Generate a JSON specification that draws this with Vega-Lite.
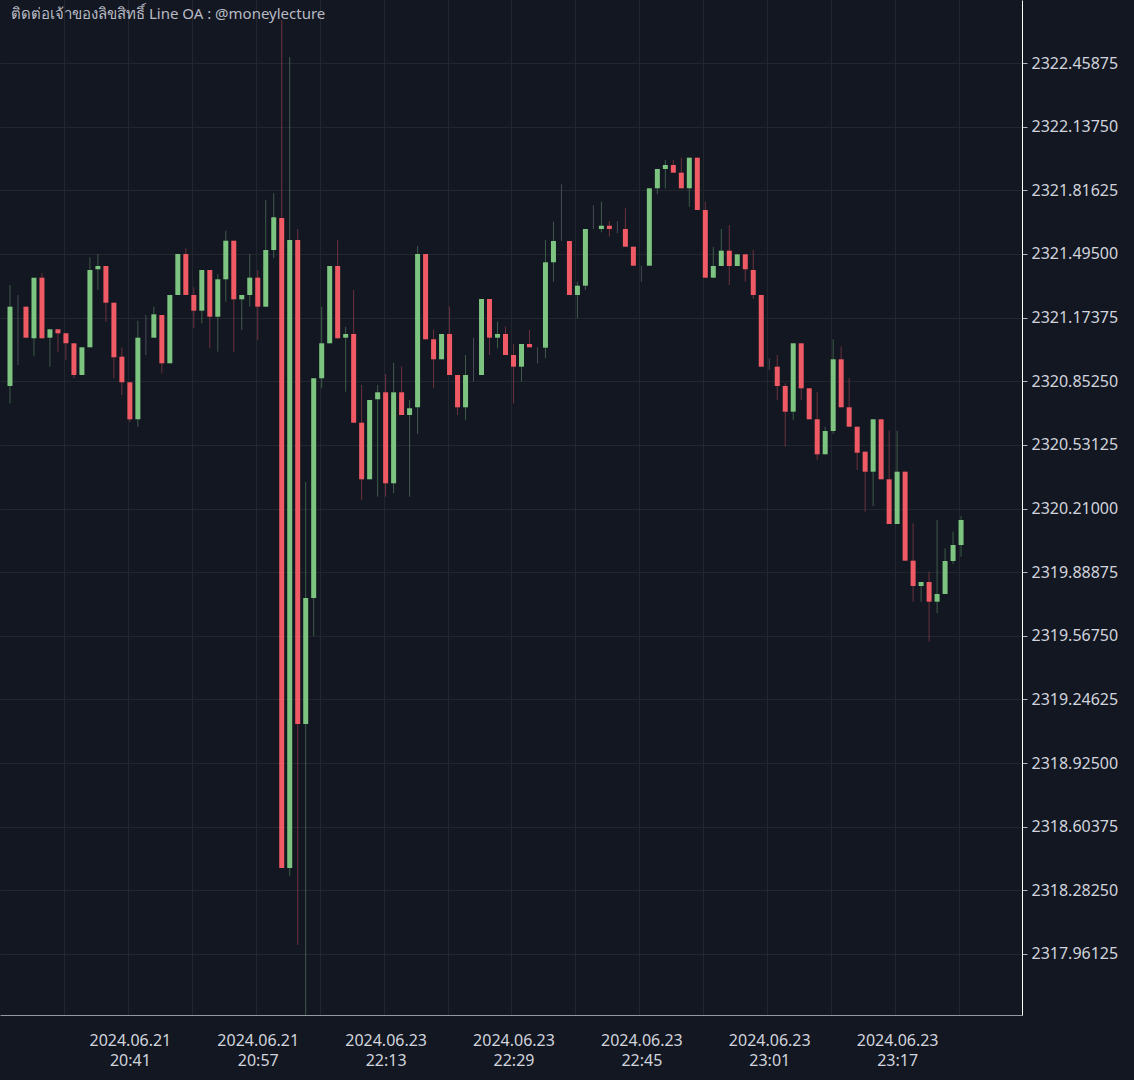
{
"$schema": "https://vega.github.io/schema/vega-lite/v6.json",
"width": 1134,
"height": 1080,
"autosize": {"type": "fit", "contains": "padding"},
"padding": {"left": 0, "top": 0, "right": 16, "bottom": 12},
"background": "#131722",
"config": {"view": {"stroke": null}, "font": "Noto Sans"},
"title": {"text": "ติดต่อเจ้าของลิขสิทธิ์ Line OA : @moneylecture", "anchor": "start", "orient": "top", "frame": "group", "offset": -34, "baseline": "alphabetic", "dx": 11, "fontSize": 15, "fontWeight": "normal", "color": "#b8bbc3", "font": "Noto Sans"},
"data": {"values": [
{"i":0,"o":2320.8284,"h":2321.3382,"l":2320.7411,"c":2321.2287},
{"i":1,"o":2321.2287,"h":2321.2877,"l":2320.9344,"c":2321.2287},
{"i":2,"o":2321.2287,"h":2321.2287,"l":2321.0722,"c":2321.0722},
{"i":3,"o":2321.0692,"h":2321.3751,"l":2320.9798,"c":2321.3751},
{"i":4,"o":2321.3751,"h":2321.3973,"l":2321.0692,"c":2321.0692},
{"i":5,"o":2321.0722,"h":2321.1146,"l":2320.9258,"c":2321.1146},
{"i":6,"o":2321.1146,"h":2321.1146,"l":2321.0015,"c":2321.0944},
{"i":7,"o":2321.0944,"h":2321.0944,"l":2320.9596,"c":2321.0439},
{"i":8,"o":2321.0439,"h":2321.0439,"l":2320.8673,"c":2320.8839},
{"i":9,"o":2320.8839,"h":2321.0237,"l":2320.8839,"c":2321.0237},
{"i":10,"o":2321.0237,"h":2321.4780,"l":2321.0237,"c":2321.4139},
{"i":11,"o":2321.4175,"h":2321.4947,"l":2321.3130,"c":2321.4341},
{"i":12,"o":2321.4341,"h":2321.4341,"l":2321.1530,"c":2321.2489},
{"i":13,"o":2321.2489,"h":2321.2489,"l":2320.8673,"c":2320.9733},
{"i":14,"o":2320.9763,"h":2321.0237,"l":2320.7830,"c":2320.8471},
{"i":15,"o":2320.8471,"h":2320.8471,"l":2320.6467,"c":2320.6603},
{"i":16,"o":2320.6603,"h":2321.1580,"l":2320.6229,"c":2321.0722},
{"i":17,"o":2321.0722,"h":2321.1868,"l":2320.9849,"c":2321.0722},
{"i":18,"o":2321.0722,"h":2321.2287,"l":2321.0722,"c":2321.1903},
{"i":19,"o":2321.1868,"h":2321.1868,"l":2320.8925,"c":2320.9430},
{"i":20,"o":2320.9430,"h":2321.2877,"l":2320.9430,"c":2321.2877},
{"i":21,"o":2321.2877,"h":2321.4947,"l":2321.2877,"c":2321.4947},
{"i":22,"o":2321.4947,"h":2321.5235,"l":2321.2877,"c":2321.2877},
{"i":23,"o":2321.2877,"h":2321.3266,"l":2321.1196,"c":2321.2085},
{"i":24,"o":2321.2085,"h":2321.4139,"l":2321.1449,"c":2321.4139},
{"i":25,"o":2321.4139,"h":2321.4139,"l":2321.0187,"c":2321.1782},
{"i":26,"o":2321.1782,"h":2321.3937,"l":2321.0015,"c":2321.3670},
{"i":27,"o":2321.3670,"h":2321.6123,"l":2321.2539,"c":2321.5618},
{"i":28,"o":2321.5618,"h":2321.5618,"l":2321.0015,"c":2321.2660},
{"i":29,"o":2321.2660,"h":2321.2877,"l":2321.1111,"c":2321.2877},
{"i":30,"o":2321.2877,"h":2321.4947,"l":2321.2287,"c":2321.3751},
{"i":31,"o":2321.3751,"h":2321.4139,"l":2321.0606,"c":2321.2287},
{"i":32,"o":2321.2287,"h":2321.7673,"l":2321.2287,"c":2321.5149},
{"i":33,"o":2321.5149,"h":2321.8011,"l":2321.4730,"c":2321.6799},
{"i":34,"o":2321.6764,"h":2322.6758,"l":2318.3954,"c":2318.3954},
{"i":35,"o":2318.3954,"h":2322.4891,"l":2318.3550,"c":2321.5654},
{"i":36,"o":2321.5654,"h":2321.6209,"l":2318.0067,"c":2319.1223},
{"i":37,"o":2319.1223,"h":2320.3438,"l":2317.5777,"c":2319.7583},
{"i":38,"o":2319.7583,"h":2320.8673,"l":2319.5665,"c":2320.8673},
{"i":39,"o":2320.8673,"h":2321.2287,"l":2320.8168,"c":2321.0439},
{"i":40,"o":2321.0439,"h":2321.4341,"l":2321.0439,"c":2321.4341},
{"i":41,"o":2321.4341,"h":2321.5654,"l":2321.0692,"c":2321.0692},
{"i":42,"o":2321.0722,"h":2321.1277,"l":2320.7996,"c":2321.0909},
{"i":43,"o":2321.0909,"h":2321.3130,"l":2320.6431,"c":2320.6431},
{"i":44,"o":2320.6431,"h":2320.8334,"l":2320.2529,"c":2320.3574},
{"i":45,"o":2320.3574,"h":2320.7577,"l":2320.3574,"c":2320.7577},
{"i":46,"o":2320.7613,"h":2320.8334,"l":2320.2696,"c":2320.7966},
{"i":47,"o":2320.7966,"h":2320.8890,"l":2320.2696,"c":2320.3372},
{"i":48,"o":2320.3372,"h":2320.9460,"l":2320.2868,"c":2320.7966},
{"i":49,"o":2320.7966,"h":2320.9258,"l":2320.6820,"c":2320.6820},
{"i":50,"o":2320.6820,"h":2320.7577,"l":2320.2696,"c":2320.7158},
{"i":51,"o":2320.7209,"h":2321.5351,"l":2320.5861,"c":2321.4947},
{"i":52,"o":2321.4947,"h":2321.4947,"l":2321.0641,"c":2321.0641},
{"i":53,"o":2321.0641,"h":2321.1146,"l":2320.8168,"c":2320.9632},
{"i":54,"o":2320.9632,"h":2321.0909,"l":2320.9632,"c":2321.0909},
{"i":55,"o":2321.0909,"h":2321.2287,"l":2320.8839,"c":2320.8839},
{"i":56,"o":2320.8839,"h":2320.8839,"l":2320.6820,"c":2320.7209},
{"i":57,"o":2320.7209,"h":2320.9849,"l":2320.6568,"c":2320.8839},
{"i":58,"o":2320.8839,"h":2321.0722,"l":2320.8501,"c":2320.8839},
{"i":59,"o":2320.8839,"h":2321.2675,"l":2320.8839,"c":2321.2675},
{"i":60,"o":2321.2675,"h":2321.2675,"l":2320.9849,"c":2321.0722},
{"i":61,"o":2321.0722,"h":2321.1530,"l":2321.0187,"c":2321.0909},
{"i":62,"o":2321.0909,"h":2321.1277,"l":2320.9849,"c":2320.9849},
{"i":63,"o":2320.9849,"h":2321.0389,"l":2320.7411,"c":2320.9258},
{"i":64,"o":2320.9258,"h":2321.0404,"l":2320.8501,"c":2321.0404},
{"i":65,"o":2321.0404,"h":2321.1111,"l":2321.0237,"c":2321.0237},
{"i":66,"o":2321.0237,"h":2321.0237,"l":2320.9430,"c":2321.0237},
{"i":67,"o":2321.0217,"h":2321.5654,"l":2320.9682,"c":2321.4528},
{"i":68,"o":2321.4528,"h":2321.6577,"l":2321.3549,"c":2321.5603},
{"i":69,"o":2321.5603,"h":2321.8465,"l":2321.5603,"c":2321.5603},
{"i":70,"o":2321.5603,"h":2321.5603,"l":2321.2877,"c":2321.2877},
{"i":71,"o":2321.2877,"h":2321.3549,"l":2321.1701,"c":2321.3347},
{"i":72,"o":2321.3347,"h":2321.6209,"l":2321.3130,"c":2321.6209},
{"i":73,"o":2321.6209,"h":2321.7420,"l":2321.6209,"c":2321.6209},
{"i":74,"o":2321.6209,"h":2321.7587,"l":2321.6042,"c":2321.6375},
{"i":75,"o":2321.6375,"h":2321.6613,"l":2321.5820,"c":2321.6209},
{"i":76,"o":2321.6209,"h":2321.6613,"l":2321.5992,"c":2321.6209},
{"i":77,"o":2321.6209,"h":2321.7254,"l":2321.5315,"c":2321.5315},
{"i":78,"o":2321.5315,"h":2321.5315,"l":2321.4356,"c":2321.4356},
{"i":79,"o":2321.4356,"h":2321.4356,"l":2321.3549,"c":2321.4356},
{"i":80,"o":2321.4356,"h":2321.8263,"l":2321.4356,"c":2321.8263},
{"i":81,"o":2321.8263,"h":2321.9237,"l":2321.7960,"c":2321.9237},
{"i":82,"o":2321.9237,"h":2321.9692,"l":2321.8263,"c":2321.9439},
{"i":83,"o":2321.9439,"h":2321.9692,"l":2321.9051,"c":2321.9051},
{"i":84,"o":2321.9051,"h":2321.9808,"l":2321.8263,"c":2321.8263},
{"i":85,"o":2321.8263,"h":2321.9808,"l":2321.7334,"c":2321.9808},
{"i":86,"o":2321.9808,"h":2321.9808,"l":2321.7168,"c":2321.7168},
{"i":87,"o":2321.7168,"h":2321.7587,"l":2321.3751,"c":2321.3751},
{"i":88,"o":2321.3751,"h":2321.5315,"l":2321.3751,"c":2321.4341},
{"i":89,"o":2321.4341,"h":2321.6209,"l":2321.4341,"c":2321.5114},
{"i":90,"o":2321.5114,"h":2321.6411,"l":2321.3382,"c":2321.4341},
{"i":91,"o":2321.4341,"h":2321.4932,"l":2321.4341,"c":2321.4932},
{"i":92,"o":2321.4932,"h":2321.4932,"l":2321.3549,"c":2321.4175},
{"i":93,"o":2321.4139,"h":2321.5149,"l":2321.2675,"c":2321.2877},
{"i":94,"o":2321.2877,"h":2321.2877,"l":2320.9258,"c":2320.9258},
{"i":95,"o":2320.9258,"h":2320.9682,"l":2320.9092,"c":2320.9258},
{"i":96,"o":2320.9258,"h":2320.9849,"l":2320.7577,"c":2320.8284},
{"i":97,"o":2320.8284,"h":2320.8420,"l":2320.5220,"c":2320.6987},
{"i":98,"o":2320.6987,"h":2321.0439,"l":2320.6568,"c":2321.0439},
{"i":99,"o":2321.0439,"h":2321.0439,"l":2320.7577,"c":2320.8168},
{"i":100,"o":2320.8168,"h":2320.8168,"l":2320.6603,"c":2320.6603},
{"i":101,"o":2320.6603,"h":2320.7996,"l":2320.4549,"c":2320.4836},
{"i":102,"o":2320.4836,"h":2320.6229,"l":2320.4836,"c":2320.6012},
{"i":103,"o":2320.6012,"h":2321.0641,"l":2320.5861,"c":2320.9632},
{"i":104,"o":2320.9632,"h":2321.0268,"l":2320.7209,"c":2320.7209},
{"i":105,"o":2320.7209,"h":2320.8673,"l":2320.6229,"c":2320.6229},
{"i":106,"o":2320.6229,"h":2320.6229,"l":2320.4044,"c":2320.4917},
{"i":107,"o":2320.4968,"h":2320.4968,"l":2320.1939,"c":2320.3958},
{"i":108,"o":2320.3958,"h":2320.6603,"l":2320.2227,"c":2320.6603},
{"i":109,"o":2320.6603,"h":2320.6603,"l":2320.3574,"c":2320.3574},
{"i":110,"o":2320.3574,"h":2320.6028,"l":2320.1318,"c":2320.1318},
{"i":111,"o":2320.1318,"h":2320.6028,"l":2320.1318,"c":2320.3958},
{"i":112,"o":2320.3958,"h":2320.3958,"l":2319.9466,"c":2319.9466},
{"i":113,"o":2319.9466,"h":2320.1353,"l":2319.7396,"c":2319.8188},
{"i":114,"o":2319.8188,"h":2319.8390,"l":2319.7396,"c":2319.8390},
{"i":115,"o":2319.8390,"h":2319.8910,"l":2319.5377,"c":2319.7396},
{"i":116,"o":2319.7396,"h":2320.1520,"l":2319.6811,"c":2319.7785},
{"i":117,"o":2319.7785,"h":2320.0091,"l":2319.7785,"c":2319.9450},
{"i":118,"o":2319.9450,"h":2320.0929,"l":2319.9299,"c":2320.0258},
{"i":119,"o":2320.0258,"h":2320.1722,"l":2319.9667,"c":2320.1520}
]},
"encoding": {
  "x": {"field": "i", "type": "quantitative",
    "scale": {"domain": [-1.25, 126.625], "nice": false, "zero": false, "padding": 0},
    "axis": {"values": [6.75, 14.75, 22.75, 30.75, 38.75, 46.75, 54.75, 62.75, 70.75, 78.75, 86.75, 94.75, 102.75, 110.75, 118.75],
      "labelExpr": "datum.value == 14.75 ? ['2024.06.21', '20:41'] : datum.value == 30.75 ? ['2024.06.21', '20:57'] : datum.value == 46.75 ? ['2024.06.23', '22:13'] : datum.value == 62.75 ? ['2024.06.23', '22:29'] : datum.value == 78.75 ? ['2024.06.23', '22:45'] : datum.value == 94.75 ? ['2024.06.23', '23:01'] : datum.value == 110.75 ? ['2024.06.23', '23:17'] : ''",
      "grid": true, "gridColor": "#22262f", "ticks": false, "domainColor": "#9598a1", "domainWidth": 1,
      "labelColor": "#d1d4dc", "labelFontSize": 16, "labelLineHeight": 20, "labelPadding": 17, "labelOffset": 2,
      "labelFlush": false, "labelOverlap": false, "labelBound": false, "title": null, "labelFont": "Noto Sans"}}
},
"layer": [
  {"mark": {"type": "rule", "clip": true, "strokeWidth": 1, "opacity": 0.4},
   "encoding": {
     "y": {"field": "l", "type": "quantitative", "title": null,
       "scale": {"domain": [2317.6533, 2322.7768], "nice": false, "zero": false, "padding": 0},
       "axis": {"orient": "right", "values": [2322.45875, 2322.1375, 2321.81625, 2321.495, 2321.17375, 2320.8525, 2320.53125, 2320.21, 2319.88875, 2319.5675, 2319.24625, 2318.925, 2318.60375, 2318.2825, 2317.96125],
         "format": ".5f", "grid": true, "gridColor": "#22262f", "domainColor": "#ffffff", "domainWidth": 1,
         "tickColor": "#b2b5be", "tickSize": 5, "labelColor": "#d1d4dc", "labelFontSize": 16, "labelPadding": 4,
         "title": null, "labelFont": "Noto Sans"}},
     "y2": {"field": "h"},
     "color": {"condition": [{"test": "datum.c > datum.o", "value": "#7cc47f"}, {"test": "datum.c < datum.o", "value": "#f05a64"}], "value": "#9598a1"}
   }},
  {"mark": {"type": "bar", "size": 5, "clip": true},
   "encoding": {
     "y": {"field": "o", "type": "quantitative", "title": null,
       "axis": {"orient": "right", "values": [2322.45875, 2322.1375, 2321.81625, 2321.495, 2321.17375, 2320.8525, 2320.53125, 2320.21, 2319.88875, 2319.5675, 2319.24625, 2318.925, 2318.60375, 2318.2825, 2317.96125],
         "format": ".5f", "grid": true, "gridColor": "#22262f", "domainColor": "#ffffff", "domainWidth": 1,
         "tickColor": "#b2b5be", "tickSize": 5, "labelColor": "#d1d4dc", "labelFontSize": 16, "labelPadding": 4,
         "title": null, "labelFont": "Noto Sans"}},
     "y2": {"field": "c"},
     "color": {"condition": [{"test": "datum.c > datum.o", "value": "#7cc47f"}, {"test": "datum.c < datum.o", "value": "#f05a64"}], "value": "#9598a1"}
   }}
]
}
